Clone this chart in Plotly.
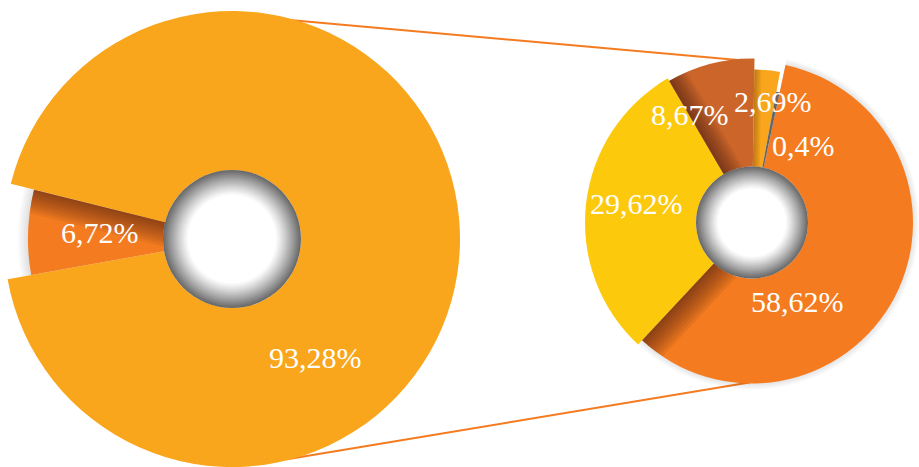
import math
import plotly.graph_objects as go

# Shares (percent) shown on the two donuts
left_values = [93.28, 6.72]
right_values = [58.62, 29.62, 8.67, 2.69, 0.4]

left_colors = ["#F9A61C", "#F47B20"]
right_colors = ["#F47B20", "#FDC90D", "#CB6529", "#F9A61C", "#636569"]


def pct(v):
    return f"{v:g}".replace(".", ",") + "%"


W, H = 919, 467

# Donut geometry in pixels: centre, outer radius of every slice, inner ring
LEFT = dict(center=(232, 239), radii=[228, 204], ring=69, core=44, rotation=284)
RIGHT = dict(center=(752, 222.5), radii=[161, 167, 164, 153, 133], ring=56, core=34, rotation=12)

# Label anchor points in pixels
left_label_pos = [(315, 357), (100, 232)]
right_label_pos = [(797, 301), (636, 204), (690, 114), (773, 102), (803, 145)]


def paper(x, y):
    return x / W, 1 - y / H


def polar_pt(c, r, theta):
    t = math.radians(theta)
    return c[0] + r * math.sin(t), c[1] - r * math.cos(t)


def slice_bounds(values, rotation):
    total = sum(values)
    a = rotation
    out = []
    for v in values:
        b = a + 360.0 * v / total
        out.append((a, b))
        a = b
    return out


def slice_trace(values, colors, idx, center, radius, ring, rotation, color=None):
    cols = ["rgba(0,0,0,0)"] * len(values)
    cols[idx] = color if color else colors[idx]
    cx, cy = center
    dx = [max(0.0, (cx - radius) / W), min(1.0, (cx + radius) / W)]
    dy = [max(0.0, 1 - (cy + radius) / H), min(1.0, 1 - (cy - radius) / H)]
    return go.Pie(
        values=values, sort=False, direction="clockwise", rotation=rotation,
        hole=ring / radius, marker=dict(colors=cols, line=dict(width=0)),
        textinfo="none", hoverinfo="skip", showlegend=False,
        domain=dict(x=dx, y=dy),
    )


def path_str(pts):
    pp = [paper(x, y) for x, y in pts]
    return "M " + " L ".join(f"{x:.6f},{y:.6f}" for x, y in pp) + " Z"


def band_path(c, theta, side, w, r_in, r_out, n_arc=14):
    """Strip of width w inside a slice, running along the edge at angle theta."""
    t = math.radians(theta)
    u = (math.sin(t), -math.cos(t))
    pts = [(c[0] + r_in * u[0], c[1] + r_in * u[1])]
    phi_out = math.degrees(math.asin(min(w / r_out, 1)))
    for k in range(n_arc + 1):
        pts.append(polar_pt(c, r_out, theta + side * phi_out * k / n_arc))
    phi_in = math.degrees(math.asin(min(w / r_in, 1)))
    for k in range(n_arc + 1):
        pts.append(polar_pt(c, r_in, theta + side * phi_in * (1 - k / n_arc)))
    return path_str(pts)


def shadow_shapes(c, theta, side, width, r_in, r_out, alpha, steps=9):
    shapes = []
    for k in range(1, steps + 1):
        shapes.append(dict(
            type="path", xref="paper", yref="paper", layer="above",
            path=band_path(c, theta, side, width * k / steps, r_in, r_out),
            fillcolor=f"rgba(45,20,10,{alpha})", line=dict(width=0),
        ))
    return shapes


def ring_shapes(c, r_ring, r_core, steps=26):
    shapes = []
    for k in range(steps + 1):
        f = 1 - k / steps
        r = r_core + (r_ring - r_core) * f
        g = int(round(255 - 150 * f ** 1.15))
        shapes.append(dict(
            type="circle", xref="paper", yref="paper", layer="above",
            x0=(c[0] - r) / W, x1=(c[0] + r) / W,
            y0=1 - (c[1] + r) / H, y1=1 - (c[1] - r) / H,
            fillcolor=f"rgb({g},{g},{g})", line=dict(width=0),
        ))
    r = r_core
    shapes.append(dict(
        type="circle", xref="paper", yref="paper", layer="above",
        x0=(c[0] - r) / W, x1=(c[0] + r) / W,
        y0=1 - (c[1] + r) / H, y1=1 - (c[1] - r) / H,
        fillcolor="white", line=dict(width=0),
    ))
    return shapes


traces = []

# soft haze around the smaller slices
for k in range(1, 6):
    traces.append(slice_trace(left_values, left_colors, 1, LEFT["center"],
                              LEFT["radii"][1] + 2 * k, LEFT["ring"], LEFT["rotation"],
                              color="rgba(0,0,0,0.025)"))
for k in range(1, 5):
    traces.append(slice_trace(right_values, right_colors, 0, RIGHT["center"],
                              RIGHT["radii"][0] + 1.5 * k, RIGHT["ring"], RIGHT["rotation"],
                              color="rgba(0,0,0,0.025)"))

for i in range(len(left_values)):
    traces.append(slice_trace(left_values, left_colors, i, LEFT["center"],
                              LEFT["radii"][i], LEFT["ring"], LEFT["rotation"]))
for i in range(len(right_values)):
    traces.append(slice_trace(right_values, right_colors, i, RIGHT["center"],
                              RIGHT["radii"][i], RIGHT["ring"], RIGHT["rotation"]))

fig = go.Figure(traces)

lb = slice_bounds(left_values, LEFT["rotation"])
rb = slice_bounds(right_values, RIGHT["rotation"])

shapes = []
# connector lines between the two donuts
lc, rc = LEFT["center"], RIGHT["center"]
for a_l, a_r, r_r in [(15.4, 355, RIGHT["radii"][2] - 1), (166, 181, RIGHT["radii"][0] - 1)]:
    x0, y0 = paper(*polar_pt(lc, LEFT["radii"][0] - 1, a_l))
    x1, y1 = paper(*polar_pt(rc, r_r, a_r))
    shapes.append(dict(type="line", xref="paper", yref="paper", layer="below",
                       x0=x0, y0=y0, x1=x1, y1=y1,
                       line=dict(color="#F47B20", width=2)))

# cast shadows along slice edges
shapes += shadow_shapes(lc, lb[1][1], -1, 24, LEFT["ring"] - 2, LEFT["radii"][1], 0.065)
shapes += shadow_shapes(rc, rb[0][1], -1, 26, RIGHT["ring"] - 2, RIGHT["radii"][0], 0.07)
shapes += shadow_shapes(rc, rb[2][0], 1, 20, RIGHT["ring"] - 2, RIGHT["radii"][2], 0.065)
shapes += shadow_shapes(rc, rb[3][0], 1, 7, RIGHT["ring"] - 2, RIGHT["radii"][3], 0.06, steps=5)

# gradient rings in the middle of each donut
shapes += ring_shapes(lc, LEFT["ring"], LEFT["core"])
shapes += ring_shapes(rc, RIGHT["ring"], RIGHT["core"])

annotations = []
for v, (x, y) in zip(left_values + right_values, left_label_pos + right_label_pos):
    px_, py_ = paper(x, y)
    annotations.append(dict(
        text=pct(v), x=px_, y=py_, xref="paper", yref="paper",
        xanchor="center", yanchor="middle", showarrow=False,
        font=dict(family="Liberation Serif", size=30, color="white"),
    ))

fig.update_layout(
    width=W, height=H, autosize=False,
    margin=dict(l=0, r=0, t=0, b=0, pad=0),
    paper_bgcolor="white", plot_bgcolor="white",
    showlegend=False, shapes=shapes, annotations=annotations,
)

fig.write_html("out.html")
